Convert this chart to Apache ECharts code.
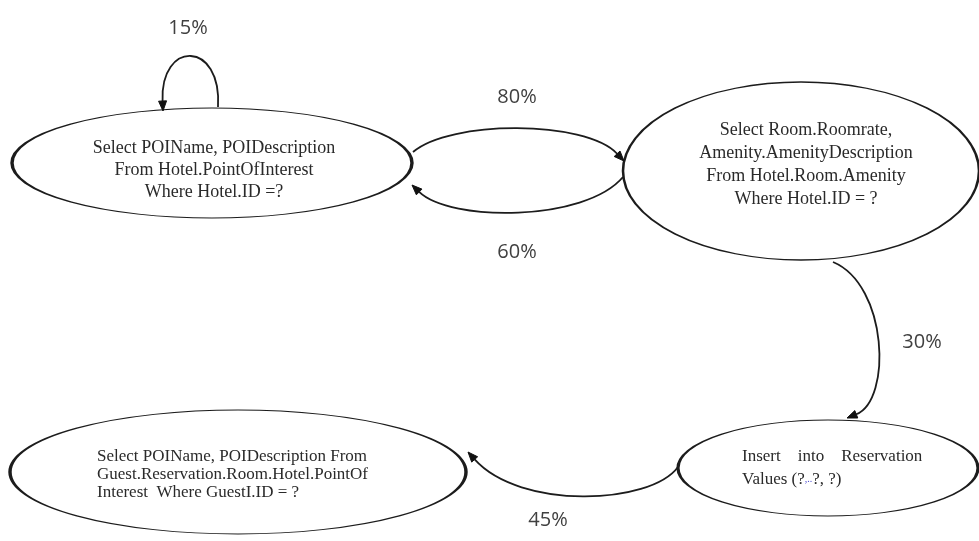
<!DOCTYPE html>
<html>
<head>
<meta charset="utf-8">
<script src="https://cdn.jsdelivr.net/npm/echarts@6/dist/echarts.min.js"></script>
<style>
html,body{margin:0;padding:0;background:#ffffff;}
#chart{width:979px;height:541px;}
</style>
</head>
<body>
<div id="chart"></div>
<script>
// ---- DATA ----
const stateIds = ['POI', 'RoomAmenity', 'Reservation', 'GuestPOI'];
const stateTexts = [
  'Select POIName, POIDescription\nFrom Hotel.PointOfInterest\nWhere Hotel.ID =?',
  'Select Room.Roomrate,\nAmenity.AmenityDescription\nFrom Hotel.Room.Amenity\nWhere Hotel.ID = ?',
  'Insert    into    Reservation\nValues (?{b|,..}?, ?)',
  'Select POIName, POIDescription From\nGuest.Reservation.Room.Hotel.PointOf\nInterest  Where GuestI.ID = ?'
];
const edgeSources = [0, 0, 1, 1, 2];
const edgeTargets = [0, 1, 0, 2, 3];
const edgeProbabilities = [15, 80, 60, 30, 45];

// ---- LAYOUT (pixel space of the 979x541 canvas) ----
const nodeLayout = [
  {cx: 212, cy: 163, rx: 200, ry: 55, align: 'center', dx: 2,    dy: 7,  lh: 22, fs: 18},
  {cx: 801, cy: 171, rx: 178, ry: 89, align: 'center', dx: 5,    dy: -6, lh: 23, fs: 18},
  {cx: 828, cy: 468, rx: 150, ry: 48, align: 'left',   dx: -86,  dy: 0,  lh: 23, fs: 17},
  {cx: 238, cy: 472, rx: 228, ry: 62, align: 'left',   dx: -141, dy: 3,  lh: 18, fs: 17}
];
const edgeLayout = [
  {path: [[218, 107], [222, 40], [160, 40], [163, 111]], text: [188, 28]},
  {path: [[413, 152], [450, 120], [585, 120], [624, 161]], text: [517, 97]},
  {path: [[623, 177], [585, 222], [450, 222], [412, 185]], text: [517, 252]},
  {path: [[833, 262], [888, 285], [892, 400], [847, 418]], text: [922, 342]},
  {path: [[678, 467], [650, 505], [520, 510], [468, 452]], text: [548, 520]}
];

const ellipseSymbol = 'path://M0,50A50,50,0,1,1,100,50A50,50,0,1,1,0,50Z';

const chart = echarts.init(document.getElementById('chart'), null, {renderer: 'canvas'});

const nodeData = stateIds.map(function (id, i) {
  const L = nodeLayout[i];
  return {
    name: id,
    value: [L.cx, L.cy],
    symbolSize: [L.rx * 2, L.ry * 2],
    label: {align: L.align, offset: [L.dx, L.dy], lineHeight: L.lh, fontSize: L.fs}
  };
});

const edgeData = edgeSources.map(function (s, i) {
  return {name: stateIds[s] + '->' + stateIds[edgeTargets[i]], value: edgeLayout[i].text.slice()};
});

chart.setOption({
  animation: false,
  backgroundColor: '#ffffff',
  grid: {left: 0, right: 0, top: 0, bottom: 0},
  xAxis: {type: 'value', min: 0, max: 979, show: false},
  yAxis: {type: 'value', min: 0, max: 541, inverse: true, show: false},
  series: [
    {
      type: 'scatter',
      silent: true,
      z: 2,
      symbol: ellipseSymbol,
      itemStyle: {color: '#ffffff', borderColor: '#1c1c1c', borderWidth: 1.8, opacity: 1},
      label: {
        show: true,
        position: 'inside',
        formatter: function (p) { return stateTexts[p.dataIndex]; },
        fontFamily: 'Liberation Serif',
        fontSize: 17,
        color: '#2a2a2a',
        rich: {b: {color: '#4a4ad0', fontSize: 10, fontFamily: 'Liberation Serif'}}
      },
      data: nodeData
    },
    {
      type: 'custom',
      silent: true,
      z: 3,
      renderItem: function (params, api) {
        const i = params.dataIndex;
        const P = edgeLayout[i].path.map(function (q) { return api.coord(q); });
        const p0 = P[0], p1 = P[1], p2 = P[2], p3 = P[3];
        const dx = p3[0] - p2[0], dy = p3[1] - p2[1];
        const len = Math.sqrt(dx * dx + dy * dy) || 1;
        const ux = dx / len, uy = dy / len;
        const al = 10, hw = 4;
        const bx = p3[0] - ux * al, by = p3[1] - uy * al;
        const t = api.coord([api.value(0), api.value(1)]);
        return {
          type: 'group',
          children: [
            {
              type: 'bezierCurve',
              shape: {x1: p0[0], y1: p0[1], cpx1: p1[0], cpy1: p1[1], cpx2: p2[0], cpy2: p2[1], x2: bx, y2: by},
              style: {stroke: '#1c1c1c', lineWidth: 1.8, fill: 'none'}
            },
            {
              type: 'polygon',
              shape: {points: [[p3[0], p3[1]], [bx - uy * hw, by + ux * hw], [bx + uy * hw, by - ux * hw]]},
              style: {fill: '#111111', stroke: '#111111', lineWidth: 1}
            },
            {
              type: 'text',
              x: t[0], y: t[1],
              style: {
                text: edgeProbabilities[i] + '%',
                align: 'center', verticalAlign: 'middle',
                fontFamily: 'Open Sans', fontSize: 20,
                fill: '#404040'
              }
            }
          ]
        };
      },
      data: edgeData
    }
  ]
});
</script>
</body>
</html>
